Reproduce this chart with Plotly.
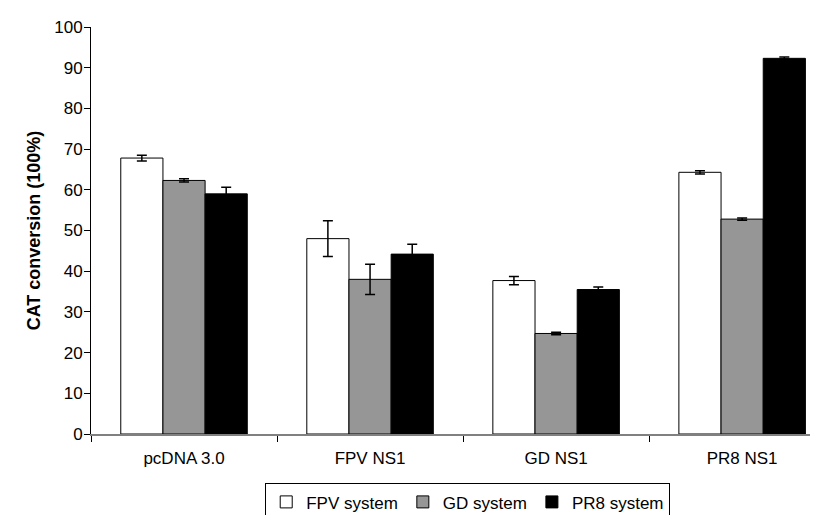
import plotly.graph_objects as go

categories = ["pcDNA 3.0", "FPV NS1", "GD NS1", "PR8 NS1"]
fpv_values = [67.8, 48.0, 37.7, 64.3]
fpv_errors = [0.7, 4.4, 1.0, 0.4]
gd_values = [62.3, 38.0, 24.7, 52.8]
gd_errors = [0.4, 3.7, 0.3, 0.3]
pr8_values = [59.0, 44.2, 35.5, 92.3]
pr8_errors = [1.6, 2.4, 0.6, 0.3]
series_names = ["FPV system", "GD system", "PR8 system"]
y_ticks = [0, 10, 20, 30, 40, 50, 60, 70, 80, 90, 100]

FONT = "Liberation Sans, Arial, sans-serif"
fills = ["#FFFFFF", "#969696", "#000000"]

fig = go.Figure()
for name, vals, errs, col in zip(series_names,
                                  [fpv_values, gd_values, pr8_values],
                                  [fpv_errors, gd_errors, pr8_errors],
                                  fills):
    fig.add_trace(go.Bar(
        x=categories, y=vals, name=name,
        marker=dict(color=col, line=dict(color="#000000", width=1)),
        error_y=dict(type="data", array=errs, visible=True,
                     color="#000000", thickness=1.5, width=5),
    ))

fig.update_layout(
    width=818, height=515,
    margin=dict(l=83, r=2, t=19, b=89, autoexpand=False),
    paper_bgcolor="white", plot_bgcolor="white",
    barmode="group", bargap=0.32, bargroupgap=0,
    font=dict(family=FONT, size=17, color="#000000"),
    showlegend=True,
    legend=dict(
        orientation="h", xref="container", yref="container",
        x=0.562, xanchor="center", y=0.077, yanchor="top",
        bordercolor="#000000", borderwidth=1,
        font=dict(family=FONT, size=17, color="#000000"),
        itemwidth=30, tracegroupgap=0,
    ),
)
fig.update_xaxes(
    range=[-0.5, 3.44], showgrid=False, automargin=False,
    showline=True, linecolor="#808080", linewidth=1.5,
    ticks="outside", tickson="boundaries", ticklen=6, tickcolor="#000000",
    tickfont=dict(family=FONT, size=17), ticklabelstandoff=8,
)
fig.update_yaxes(
    range=[0, 100], tickvals=y_ticks, showgrid=False, zeroline=False,
    automargin=False,
    showline=True, linecolor="#000000", linewidth=1,
    ticks="outside", ticklen=6, tickcolor="#000000",
    tickfont=dict(family=FONT, size=17), ticklabelstandoff=-2,
    title=dict(text="<b>CAT conversion (100%)</b>",
               font=dict(family=FONT, size=18), standoff=8),
)

fig.write_html("out.html")
